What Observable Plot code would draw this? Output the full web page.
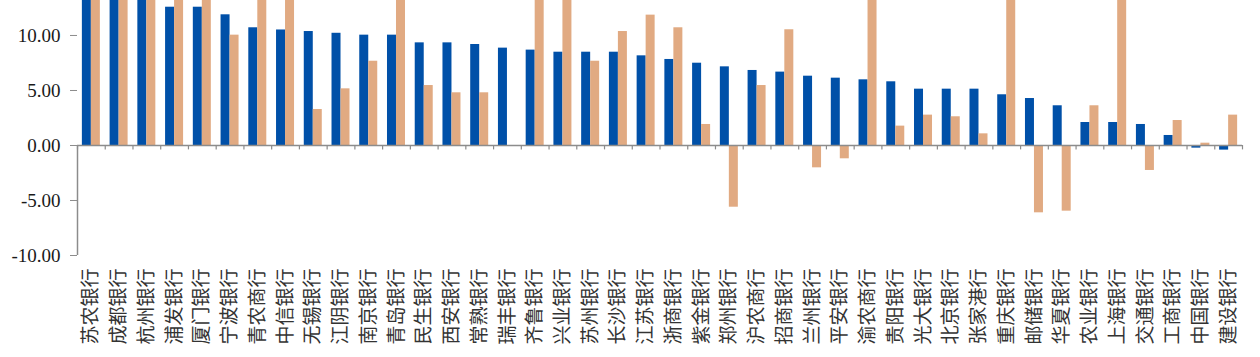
<!DOCTYPE html>
<html><head><meta charset="utf-8">
<script src="https://cdn.jsdelivr.net/npm/d3@7"></script>
<script src="https://cdn.jsdelivr.net/npm/@observablehq/plot@0.6"></script>
<style>
html,body{margin:0;padding:0;background:#fff;}
</style>
</head><body>
<div id="chart"></div>
<script>
const banks = ["苏农银行","成都银行","杭州银行","浦发银行","厦门银行","宁波银行","青农商行","中信银行","无锡银行","江阴银行","南京银行","青岛银行","民生银行","西安银行","常熟银行","瑞丰银行","齐鲁银行","兴业银行","苏州银行","长沙银行","江苏银行","浙商银行","紫金银行","郑州银行","沪农商行","招商银行","兰州银行","平安银行","渝农商行","贵阳银行","光大银行","北京银行","张家港行","重庆银行","邮储银行","华夏银行","农业银行","上海银行","交通银行","工商银行","中国银行","建设银行"];
const seriesA = [15.5,14.8,13.9,12.57,12.57,11.88,10.70,10.50,10.36,10.20,10.03,10.03,9.33,9.33,9.18,8.85,8.67,8.48,8.48,8.48,8.15,7.82,7.48,7.15,6.82,6.67,6.30,6.12,5.97,5.79,5.12,5.12,5.12,4.61,4.27,3.61,2.09,2.09,1.91,0.91,-0.24,-0.42];
const seriesB = [21,25,20,16,17,10.03,18,16,3.27,5.15,7.66,22,5.45,4.79,4.79,0,19,15,7.66,10.36,11.85,10.70,1.91,-5.61,5.45,10.52,-2.03,-1.21,24,1.76,2.76,2.61,1.06,30,-6.12,-5.97,3.61,20,-2.27,2.27,0.21,2.76];
const yTicks = [-10,-5,0,5,10];

const W = 1260, H = 357, ML = 77, MR = 18, MT = 0, MB = 102;
const bw = (W - ML - MR) / banks.length;
const barW = 9;
const outer = (bw - 2 * barW) / 2;

const rows = banks.map((b, i) => ({bank: b, a: seriesA[i], b: seriesB[i]}));
const gray = "#8c8c8c";

const chart = Plot.plot({
  width: W, height: H,
  marginLeft: ML, marginRight: MR, marginTop: MT, marginBottom: MB,
  x: {type: "band", domain: banks, padding: 0, label: null},
  y: {domain: [-10, 13.18], label: null},
  style: {background: "#fff", overflow: "visible", fontFamily: "'Liberation Serif', serif"},
  marks: [
    Plot.barY(rows, {x: "bank", y: "a", fill: "#0050A8", insetLeft: outer, insetRight: outer + barW, clip: true}),
    Plot.barY(rows, {x: "bank", y: "b", fill: "#E1AA82", insetLeft: outer + barW, insetRight: outer, clip: true}),
    Plot.ruleY([0], {stroke: gray, strokeWidth: 1.5}),
    Plot.ruleX(banks, {x: d => d, y1: 0, y2: -0.4, dx: -bw / 2, stroke: gray, strokeWidth: 1.2}),
    Plot.ruleX([banks[banks.length - 1]], {x: d => d, y1: 0, y2: -0.4, dx: bw / 2, stroke: gray, strokeWidth: 1.2}),
    Plot.ruleX([banks[0]], {x: d => d, y1: 0, y2: -10, dx: -bw / 2, stroke: gray, strokeWidth: 1.5}),
    Plot.axisY({ticks: yTicks, tickFormat: d => d.toFixed(2), tickSize: 7, tickPadding: 10, stroke: gray,
      fontSize: 19, fontFamily: "Liberation Serif", color: "#1a1a1a"}),
    Plot.axisX({anchor: "bottom", tickSize: 0, tickPadding: 13, tickRotate: -90,
      fontSize: 19, fontFamily: "Noto Sans CJK SC", color: "#333"})
  ]
});
document.getElementById("chart").appendChild(chart);
</script>
</body></html>
